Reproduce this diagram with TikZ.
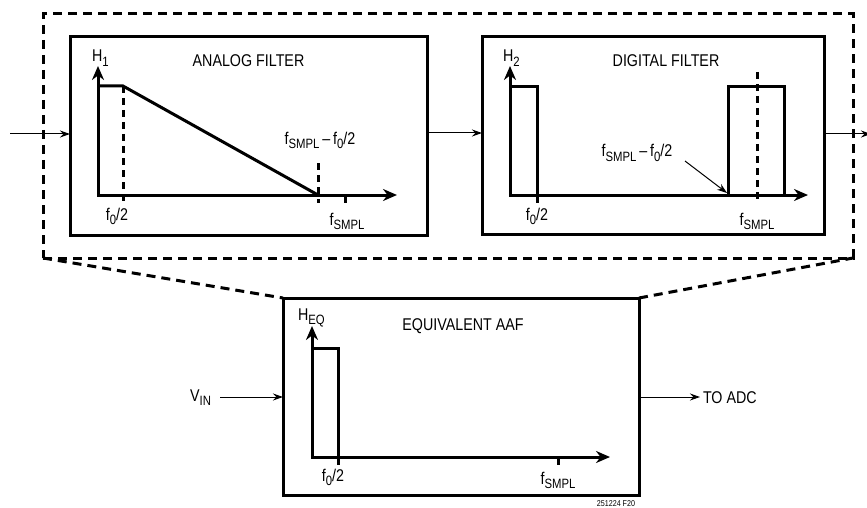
\documentclass[tikz,border=0pt]{standalone}
\usepackage{fontspec}
\setmainfont[FakeStretch=0.84]{Liberation Sans}
\usetikzlibrary{arrows.meta}
\newcommand{\sbs}[1]{\raisebox{-0.28em}{\fontsize{13.5}{14}\selectfont #1}}
\tikzset{
  every node/.style={font=\fontsize{17}{19}\selectfont, inner sep=0pt, outer sep=0pt},
  blk/.style={draw, line width=3pt, rectangle},
  outerbox/.style={draw, line width=3pt, dash pattern=on 9pt off 6pt, rectangle},
  graph/.style={line width=3pt, line join=miter},
  axes/.style={line width=3pt, {Stealth[length=14pt,width=12pt]}-{Stealth[length=14pt,width=12pt]}},
  dsh/.style={line width=3pt, dash pattern=on 7pt off 5pt},
  conn/.style={line width=1pt, -{Stealth[length=10pt,width=7pt]}},
  lbl/.style={anchor=base}
}
\begin{document}
\begin{tikzpicture}[x=1pt,y=-1pt]
\useasboundingbox (0,0) rectangle (867,508);
% outer dashed box
\node[outerbox, minimum width=810pt, minimum height=244pt] (outer) at (448,136) {};
% blocks
\node[blk, minimum width=357pt, minimum height=198pt] (ana) at (248.5,136) {};
\node[blk, minimum width=342pt, minimum height=197pt] (dig) at (653,135.5) {};
\node[blk, minimum width=356pt, minimum height=197pt] (eq) at (461,396.5) {};
% dashed projection lines
\draw[dsh, dash pattern=on 9pt off 6pt] (outer.south west) -- (eq.north west);
\draw[dsh, dash pattern=on 9pt off 6pt] (eq.north east) -- (outer.south east);
% connectors
\coordinate (in) at (10,134);
\draw[conn] (in) -- (in -| ana.west);
\coordinate (mid) at (450,133);
\draw[conn] (mid -| ana.east) -- (mid -| dig.west);
\coordinate (outr) at (871,134);
\draw[conn] (outr -| dig.east) -- (outr);
\node[lbl, anchor=base east] (vin) at (211,401) {V\sbs{IN}};
\coordinate (vinr) at (220,397);
\draw[conn] (vinr) -- (vinr -| eq.west);
\coordinate (toadc) at (700,397);
\draw[conn] (toadc -| eq.east) -- (toadc);
\node[lbl, anchor=base west] (adc) at (703,403) {TO ADC};
\node[lbl, font=\fontsize{8.5}{9}\selectfont] (fig) at (616,506) {251224 F20};

% ---- analog filter graph
\node[lbl] (tana) at (248.5,67) {ANALOG FILTER};
\node[lbl, anchor=base west] (h1) at (92,62) {H\sbs{1}};
\draw[axes] (98,66) -- (98,195) -- (397,195);
\draw[graph] (98,86) -- (123,86) -- (318,195);
\draw[dsh] (123,86) -- (123,203);
\draw[dsh] (318,163) -- (318,203);
\draw[graph] (345,195) -- (345,203);
\node[lbl] (a1) at (117,220) {f\sbs{0}/2};
\node[lbl] (a2) at (347,225) {f\sbs{SMPL}};
\node[lbl] (a3) at (320,144) {f\sbs{SMPL}\,–\,f\sbs{0}/2};

% ---- digital filter graph
\node[lbl] (tdig) at (666,67) {DIGITAL FILTER};
\node[lbl, anchor=base west] (h2) at (503,62) {H\sbs{2}};
\draw[axes] (510,66) -- (510,195) -- (808,195);
\draw[graph] (510,87) -- (537,87) -- (537,203);
\draw[graph] (728,195) -- (728,87) -- (784,87) -- (784,195);
\draw[dsh] (757,72) -- (757,203);
\node[lbl] (d1) at (537,220) {f\sbs{0}/2};
\node[lbl] (d2) at (757,225) {f\sbs{SMPL}};
\node[lbl] (d3) at (637,157) {f\sbs{SMPL}\,–\,f\sbs{0}/2};
\coordinate (d3a) at (685,161);
\coordinate (d3b) at (727,193);
\draw[conn] (d3a) -- (d3b);

% ---- equivalent AAF graph
\node[lbl] (teq) at (463,330) {EQUIVALENT AAF};
\node[lbl, anchor=base west] (heq) at (298,320) {H\sbs{EQ}};
\draw[axes] (312,326) -- (312,457) -- (610,457);
\draw[graph] (312,348) -- (338,348) -- (338,465);
\draw[graph] (558,457) -- (558,465);
\node[lbl] (e1) at (333,481) {f\sbs{0}/2};
\node[lbl] (e2) at (558,484) {f\sbs{SMPL}};
\end{tikzpicture}
\end{document}
